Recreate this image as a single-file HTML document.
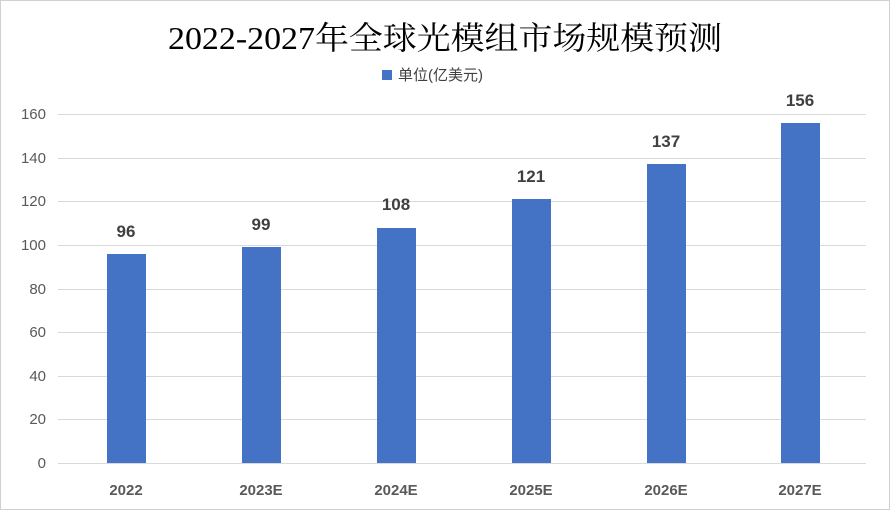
<!DOCTYPE html>
<html><head><meta charset="utf-8"><style>
body{margin:0;background:#fff}
svg text{font-family:"Liberation Sans","Noto Sans CJK SC",sans-serif}
</style></head><body>
<svg width="890" height="510" xmlns="http://www.w3.org/2000/svg">
<rect x="0.5" y="0.5" width="889" height="509" fill="#fff" stroke="#d0d0d0"/>
<text x="168" y="49" textLength="554" lengthAdjust="spacingAndGlyphs" font-size="32" fill="#000" style="font-family:'Liberation Serif','Noto Serif CJK SC',serif">2022-2027年全球光模组市场规模预测</text>
<rect x="382" y="70" width="10" height="10" fill="#4472c4"/>
<text x="398" y="80" font-size="15" fill="#404040">单位(亿美元)</text>
<g stroke="#d9d9d9" stroke-width="1">
<line x1="58" x2="866" y1="114.5" y2="114.5"/><line x1="58" x2="866" y1="158.5" y2="158.5"/>
<line x1="58" x2="866" y1="201.5" y2="201.5"/><line x1="58" x2="866" y1="245.5" y2="245.5"/>
<line x1="58" x2="866" y1="289.5" y2="289.5"/><line x1="58" x2="866" y1="332.5" y2="332.5"/>
<line x1="58" x2="866" y1="376.5" y2="376.5"/><line x1="58" x2="866" y1="419.5" y2="419.5"/>
<line x1="58" x2="866" y1="463.5" y2="463.5"/>
</g>
<g font-size="15" fill="#595959" text-anchor="end">
<text x="46" y="119">160</text><text x="46" y="163">140</text><text x="46" y="206">120</text>
<text x="46" y="250">100</text><text x="46" y="294">80</text><text x="46" y="337">60</text>
<text x="46" y="381">40</text><text x="46" y="424">20</text><text x="46" y="468">0</text>
</g>
<g fill="#4472c4">
<rect x="107" y="254" width="39" height="209"/>
<rect x="242" y="247" width="39" height="216"/>
<rect x="377" y="228" width="39" height="235"/>
<rect x="512" y="199" width="39" height="264"/>
<rect x="647" y="164" width="39" height="299"/>
<rect x="781" y="123" width="39" height="340"/>
</g>
<g font-size="17" font-weight="bold" fill="#404040" text-anchor="middle">
<text x="126" y="237">96</text><text x="261" y="230">99</text><text x="396" y="210">108</text>
<text x="531" y="182">121</text><text x="666" y="147">137</text><text x="800" y="106">156</text>
</g>
<g font-size="15" font-weight="bold" fill="#595959" text-anchor="middle">
<text x="126" y="495">2022</text><text x="261" y="495">2023E</text><text x="396" y="495">2024E</text>
<text x="531" y="495">2025E</text><text x="666" y="495">2026E</text><text x="800" y="495">2027E</text>
</g>
</svg>
</body></html>
